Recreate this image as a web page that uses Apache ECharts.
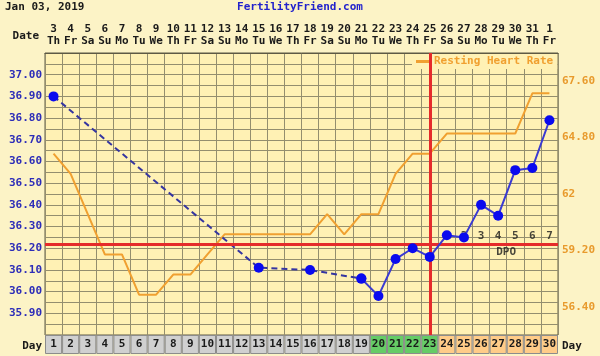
<!DOCTYPE html>
<html><head><meta charset="utf-8">
<script src="https://cdn.jsdelivr.net/npm/echarts@6/dist/echarts.min.js"></script>
<style>html,body{margin:0;padding:0;background:#FCF4C8}#c{width:600px;height:356px}</style>
</head><body><div id="c"></div>
<script>
// ---- data ----
const chartTitle = 'Jan 03, 2019';
const siteName = 'FertilityFriend.com';
const cycleDays = [1,2,3,4,5,6,7,8,9,10,11,12,13,14,15,16,17,18,19,20,21,22,23,24,25,26,27,28,29,30];
const dateLabels = ['3','4','5','6','7','8','9','10','11','12','13','14','15','16','17','18','19','20','21','22','23','24','25','26','27','28','29','30','31','1'];
const dowLabels = ['Th','Fr','Sa','Su','Mo','Tu','We','Th','Fr','Sa','Su','Mo','Tu','We','Th','Fr','Sa','Su','Mo','Tu','We','Th','Fr','Sa','Su','Mo','Tu','We','Th','Fr'];
const temps = [36.90,null,null,null,null,null,null,null,null,null,null,null,36.11,null,null,36.10,null,null,36.06,35.98,36.15,36.20,36.16,36.26,36.25,36.40,36.35,36.56,36.57,36.79];
const restingHR = [64,63,61,59,59,57,57,58,58,59,60,60,60,60,60,60,61,60,61,61,63,64,64,65,65,65,65,65,67,67];
const tempMin = 35.80, tempMax = 37.10, tempStep = 0.05;
const hrMin = 55, hrMax = 69;
const hrTickLabels = [56.4, 59.2, 62, 64.8, 67.6];
const coverline = 36.22;
const ovulationDay = 23;
const fertileDays = [20,21,22,23];
const dpoDays = [24,25,26,27,28,29,30];
const dpoNumbers = [1,2,3,4,5,6,7];
const hrName = 'Resting Heart Rate';

// ---- styles ----
const FONT = 'DejaVu Sans Mono';
const gridColor = '#948e6e';
const plotBg = '#FFF1B4';
const pageBg = '#FCF3C6';
const orange = '#F0A030';

// gap-bridging (dashed) vs consecutive (solid) temperature segments
const n = temps.length;
const tempsSolid = temps.map((v,i) => (v!=null && ((i>0 && temps[i-1]!=null) || (i<n-1 && temps[i+1]!=null))) ? v : null);
const tempsGap = temps.map((v,i) => (v!=null && ((i>0 && temps[i-1]==null) || (i<n-1 && temps[i+1]==null))) ? v : null);

const chart = echarts.init(document.getElementById('c'), null, {renderer:'canvas'});
const midDpo = dpoDays[Math.floor(dpoDays.length/2)];

chart.setOption({
  backgroundColor: pageBg,
  animation: false,
  textStyle: {fontFamily: FONT},
  legend: {
    data: [hrName], left: 412, top: 54, icon: 'rect', itemWidth: 13, itemHeight: 3, itemGap: 4,
    backgroundColor: plotBg, padding: [2,4,2,4],
    textStyle: {color: orange, fontFamily: FONT, fontWeight: 'bold', fontSize: 11}
  },
  graphic: [
    {type:'text', left: 5, top: 2, style:{text: chartTitle, font: 'bold 11px "DejaVu Sans Mono"', fill:'#1a1a1a'}},
    {type:'text', left: 'center', top: 2, style:{text: siteName, font: 'bold 11px "DejaVu Sans Mono"', fill:'#2222cc'}},
    {type:'text', x: 39, y: 36, style:{text: 'Date', font: 'bold 11px "DejaVu Sans Mono"', fill:'#1a1a1a', textAlign:'right', textVerticalAlign:'middle'}},
    {type:'text', x: 42, y: 346, style:{text: 'Day', font: 'bold 11px "DejaVu Sans Mono"', fill:'#1a1a1a', textAlign:'right', textVerticalAlign:'middle'}},
    {type:'text', x: 562, y: 346, style:{text: 'Day', font: 'bold 11px "DejaVu Sans Mono"', fill:'#1a1a1a', textAlign:'left', textVerticalAlign:'middle'}}
  ],
  grid: [
    {left: 45, top: 53, width: 513, height: 282, show: true, backgroundColor: plotBg, borderColor: '#5e5a44', borderWidth: 1},
    {left: 45, top: 335, width: 513, height: 19}
  ],
  xAxis: [
    {gridIndex: 0, type: 'category', position: 'top', boundaryGap: true,
     data: cycleDays.map((d,i) => dateLabels[i] + '\n' + dowLabels[i]),
     axisLine: {show: true, lineStyle: {color: '#5e5a44'}}, axisTick: {show: false},
     axisLabel: {interval: 0, margin: 6, fontFamily: FONT, fontWeight: 'bold', fontSize: 11, color: '#1a1a1a', lineHeight: 12},
     splitLine: {show: true, interval: 0, lineStyle: {color: gridColor, width: 1}}},
    {gridIndex: 1, type: 'category', data: cycleDays.map(String), show: false, boundaryGap: true}
  ],
  yAxis: [
    {gridIndex: 0, type: 'value', min: tempMin, max: tempMax, interval: tempStep,
     axisLine: {show: false}, axisTick: {show: false},
     splitLine: {show: true, lineStyle: {color: gridColor, width: 1}},
     axisLabel: {margin: 3, fontFamily: FONT, fontWeight: 'bold', fontSize: 11, color: '#2c2cb8',
       formatter: v => { const c = Math.round(v*100); if (c % 10 !== 0 || c <= Math.round(tempMin*100) || c >= Math.round(tempMax*100)) return ''; return (c/100).toFixed(2); }}},
    {gridIndex: 0, type: 'value', position: 'right', min: hrMin, max: hrMax,
     axisLine: {show: false}, axisTick: {show: false}, splitLine: {show: false},
     axisLabel: {customValues: hrTickLabels, margin: 4, fontFamily: FONT, fontWeight: 'bold', fontSize: 11, color: '#E89A2C',
       formatter: v => (Math.abs(v - Math.round(v)) < 1e-6 ? String(Math.round(v)) : v.toFixed(2))}},
    {gridIndex: 1, type: 'value', min: 0, max: 1, show: false}
  ],
  series: [
    {name: hrName, type: 'line', xAxisIndex: 0, yAxisIndex: 1, data: restingHR, showSymbol: false, symbol: 'none',
     lineStyle: {color: orange, width: 2}, itemStyle: {color: orange}, z: 2, silent: true},
    {name: 'dpo', type: 'scatter', xAxisIndex: 0, yAxisIndex: 0, symbolSize: 0, z: 3, silent: true,
     data: dpoDays.map((d,i) => ({value: [d-1, coverline], label: {formatter: String(dpoNumbers[i])}})),
     label: {show: true, position: 'top', distance: 2, fontFamily: FONT, fontWeight: 'bold', fontSize: 11, color: '#1a1a1a'},
     markLine: {silent: true, symbol: 'none', label: {show: false}, animation: false,
       lineStyle: {color: '#E52B2B', width: 3, type: 'solid'},
       data: [{xAxis: ovulationDay - 1}, {yAxis: coverline}]}},
    {name: 'dpoText', type: 'scatter', xAxisIndex: 0, yAxisIndex: 0, symbolSize: 0, z: 3, silent: true,
     data: [[midDpo - 1, coverline]],
     label: {show: true, position: 'bottom', distance: 3, offset: [8, 0], formatter: 'DPO', fontFamily: FONT, fontWeight: 'bold', fontSize: 11, color: '#1a1a1a'}},
    {name: 'tempGap', type: 'line', xAxisIndex: 0, yAxisIndex: 0, data: tempsGap, connectNulls: true,
     symbol: 'circle', symbolSize: 10, itemStyle: {color: '#0a0aee'},
     lineStyle: {color: '#3535a0', width: 2, type: [6, 4]}, z: 4, silent: true},
    {name: 'temp', type: 'line', xAxisIndex: 0, yAxisIndex: 0, data: tempsSolid, connectNulls: false,
     symbol: 'circle', symbolSize: 10, itemStyle: {color: '#0a0aee'},
     lineStyle: {color: '#3a3ad2', width: 2}, z: 5, silent: true},
    {name: 'dayRow', type: 'bar', xAxisIndex: 1, yAxisIndex: 2, barWidth: '100%', silent: true,
     data: cycleDays.map(d => ({value: 1, name: String(d),
       itemStyle: {color: fertileDays.includes(d) ? '#66CC66' : (dpoDays.includes(d) ? '#FFCC88' : '#D0D0D0')}})),
     itemStyle: {borderColor: '#8c8c8c', borderWidth: 1},
     label: {show: true, position: 'inside', formatter: p => p.name, fontFamily: FONT, fontWeight: 'bold', fontSize: 11, color: '#1a1a1a'}}
  ]
});
</script></body></html>
